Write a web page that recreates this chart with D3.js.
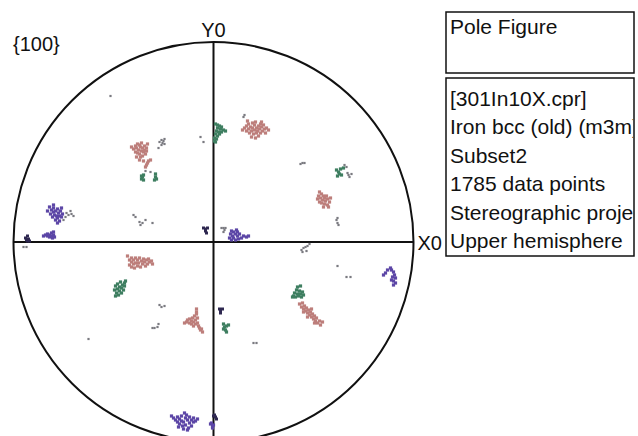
<!DOCTYPE html>
<html>
<head>
<meta charset="utf-8">
<script src="https://cdn.jsdelivr.net/npm/d3@7/dist/d3.min.js"></script>
<style>
  html, body { margin: 0; padding: 0; background: #fff; }
  svg { display: block; }
  text { font-family: "Liberation Sans", Arial, sans-serif; }
</style>
</head>
<body>
<svg id="chart" width="638" height="436"></svg>
<script>
// ---- Data (pole figure coordinates, unit circle radius = 100) ----
const pinkPts = [
  [15.5,57],[16.5,55.5],[16.5,58],[17.5,56.5],[17.5,59],[18,54.5],[18.5,57.5],[19,55.5],[19.5,59.5],[19.5,57],
  [20,54],[20.5,56],[20.5,58.5],[21,60],[21.5,57],[21.5,54.5],[22,55.5],[22.5,58],[22.5,53],[23,56.5],
  [23.5,59],[23.5,54.5],[24,57.5],[24.5,55.5],[25,58.5],[25.5,56.5],[26,54.5],[26.5,57],[27.5,56],[19,52.5],
  [21,52],[24,60],[17,60.5],[14.5,56],
  [-40,46.5],[-39,48],[-39,45],[-38.5,47],[-38,49],[-38,44.5],[-37.5,46],[-37,48.5],[-37,44],[-36.5,47.5],
  [-36,45.5],[-36,49.5],[-35.5,43],[-35.5,47],[-35,45],[-34.5,48],[-34.5,46],[-34,44],[-33.5,47],[-33.5,45.5],
  [-36.5,42.5],[-38.5,42.5],[-41,47.5],[-33,49],[-37,41],[-35,40.5],
  [-42,-9],[-42,-11.5],[-41,-8],[-41,-10],[-41,-12.5],[-40,-9],[-40,-11],[-39.5,-13],[-39,-8],[-39,-10.5],
  [-38,-9],[-38,-12],[-37.5,-10.5],[-37,-8],[-36.5,-12.5],[-36,-9.5],[-35.5,-11],[-35,-8.5],[-34.5,-10],[-34,-12],
  [-33.5,-9],[-33,-11],[-32.5,-8.5],[-32,-10],[-31,-9.5],[-30.5,-11],[-43,-7],
  [-13.5,-40],[-13,-39],[-12,-40.5],[-12,-38.5],[-11,-39.5],[-11,-41],[-10.5,-38],[-10,-40],[-10,-42],[-9.5,-37],
  [-9,-39],[-9,-41],[-8.5,-35],[-8.5,-36],[-8,-38],[-8,-40.5],[-7.5,-42],[-7,-43],[-6.5,-44],[-6,-43.5],
  [-5.5,-45],[-14.5,-40.5],[-8.5,-33.5],
  [52,21.5],[52.5,23],[53,20],[53.5,22],[54,24],[54,19.5],[54.5,21],[55,23],[55.5,19],[55.5,22],
  [56,20.5],[56.5,23],[57,18.5],[57,21.5],[58,20],[58.5,22],[53,25],[55,17.5],[57.5,17.5],
  [43,-31],[44,-32.5],[44.5,-30.5],[45,-33.5],[45.5,-32],[46,-34.5],[46.5,-33],[47,-35.5],[47.5,-34],[48,-36.5],
  [48.5,-35],[49,-37.5],[49.5,-36],[50,-38.5],[50.5,-37],[51,-39.5],[51.5,-38],[52,-40.5],[53,-39.5],[53.5,-41.5],
  [47,-37.5],[49,-33.5],[45,-35],[50.5,-40.5],[54.5,-40],
  [-34,37.5],[-33.5,38.5],[-33,39.5],[-32.5,40.5],[-31.5,41]
];
const greenPts = [
  [1,59],[2,58.5],[3,58],[4,57.5],[2,57],[3.5,56.5],[5,56],[1.5,55.5],[2.5,55],[4,55],
  [6,55.5],[1,54],[3,54],[2,53],[0.5,52],[1.5,51.5],[0.5,50.5],[1,50],
  [-36,31.5],[-35.5,32.5],[-35,33.5],[-36,33],[-35,31],[-29,34],[-29,32.5],[-28.5,31.5],[-29.5,31],
  [-49.5,-24],[-49,-22],[-48.5,-25.5],[-48,-23.5],[-48,-21],[-47.5,-26.5],[-47,-22.5],[-47,-24.5],[-46.5,-20],
  [-46,-23],[-46,-25.5],[-45.5,-21.5],[-45,-24],[-44.5,-22],[-44,-19.5],[-44.5,-20.5],[-49,-27],
  [5,-41],[5.5,-42.5],[6.5,-42],[7.5,-41.5],[6,-44],[5,-43.5],[6.5,-45],
  [61.5,36],[62.5,35],[63,34],[64,33.5],[63.5,36.5],[65,37],[62,33],
  [40,-27],[40.5,-25.5],[41,-27.5],[41.5,-24],[42,-26],[42,-22.5],[42.5,-27],[43,-24.5],[43.5,-26],[43.5,-22],
  [44,-27.5],[44.5,-25],[45,-26.5],[39.5,-27.5]
];
const purplePts = [
  [-81.5,14],[-81,16],[-80.5,12.5],[-80,15],[-80,17],[-79.5,13.5],[-79,11],[-79,15.5],[-78.5,13],[-78,16.5],
  [-78,12],[-77.5,14.5],[-77,10.5],[-77,13],[-76.5,15.5],[-76,12.5],[-75.5,14],[-78,9.5],[-83,15.5],[-82,17.5],
  [-76,17],[-80,18.5],
  [-85,3],[-84,3.5],[-83,3],[-83,4],[-82,3.5],[-82,2.5],[-81,4.5],[-81,3],[-80,3.5],[-80,5],[-79.5,2.5],[-80.5,2],
  [8,2],[8.5,4],[9,1],[9.5,3],[10,5],[10,2],[11,4],[11,1],[11.5,6],[12,3],[12.5,1.5],[13,4],[14,2],[15,3],
  [16.5,2.5],[17.5,3],[9,5.5],[12,5],
  [89,-14],[90,-15],[90.5,-16.5],[89.5,-17.5],[91,-18],[90,-19.5],[91,-20.5],[90,-21.5],[89,-19],[86,-15.5],
  [85,-16.5],[87,-14],[88.5,-13],
  [-20,-88],[-19,-89],[-18,-87.5],[-18,-90],[-17,-88.5],[-17,-91],[-16,-89.5],[-16,-87],[-15.5,-92],[-15,-90],
  [-14.5,-85.5],[-14,-88],[-14,-91.5],[-13.5,-86.5],[-13,-89],[-12.5,-93],[-12,-90.5],[-12,-87.5],[-11,-89],[-11,-92],
  [-10,-90],[-10,-88],[-9,-89.5],[-8,-88.5],[-15,-93.5],[-13,-94],[-17.5,-92.5],[-21,-87],
  [-1.5,-91],[-0.5,-92],[-1,-90.5],[0,-91.5],[-0.5,-93]
];
const darkPts = [
  [-94,2],[-93.5,1],[-93,0.5],[-92.5,1.5],[-92,0.5],[-93,3],
  [-5,7],[-4,6.5],[-3,7],[-4,5.5],[-3.5,4.5],
  [3,-33.5],[3.5,-34.5],[3.5,-35.5],[4.5,-33.5],
  [0,-87],[1,-87.5],[1.5,-88.5],[0.5,-86.5]
];
const grayPts = [
  [15,62.5],[15.5,63.5],
  [-6.5,52.5],[-5,50],
  [-27,50],[-26,51],[-25,50.5],[-24.5,49],[-26,48.5],[-25.5,49.5],[-27.5,47],[-24.5,51.5],
  [-31.5,35],[-34,35.5],[-51.5,73],
  [-73.5,14.5],[-72.5,13.5],[-71,14],[-70,13],[-74,12.5],[-71.5,15.5],[-75,11],
  [-95,-2.5],[-93.5,-2.5],
  [-40,13.5],[-39,12.5],[-36.5,8.5],[-37,10],[-35.5,9.5],[-30.5,9.5],[-34,11],
  [-27,-31.5],[-26,-32.5],[-24.5,-32],[-28,-42.5],[-29.5,-43],[-27.5,-41],[-30.5,-43],
  [20,-50.5],[21.5,-50.5],[-62.5,-48.5],
  [4,7],[5,7],[6,7],[5.5,6],[5,5],
  [67,34.5],[67.5,33.5],[68,32.5],[66.5,37.5],[65.5,38.5],[69,34],
  [61.5,11],[62,9.5],[62.5,8.5],[62,12],
  [44,-4],[45,-3],[46,-2.5],[47,-2],[48,-1],[46.5,-4.5],[44.5,-5],
  [43.5,39],[44.5,39.5],[45.5,39.5],
  [62,-12],[66.5,-17.5],[68.5,-17.5]
];
const series = [
  { name: "gray",   pts: grayPts,   color: "#7a7a80", size: 2.2 },
  { name: "pink",   pts: pinkPts,   color: "#bd7e7b", size: 3.2 },
  { name: "green",  pts: greenPts,  color: "#3e7e60", size: 3.2 },
  { name: "purple", pts: purplePts, color: "#5c46a6", size: 3.2 },
  { name: "dark",   pts: darkPts,   color: "#2e2850", size: 3 }
];
const poleLabel = "{100}";
const axisLabels = { x: "X0", y: "Y0" };
const titleLines = ["Pole Figure"];
const infoLines = ["[301In10X.cpr]", "Iron bcc (old) (m3m)", "Subset2", "1785 data points", "Stereographic projection", "Upper hemisphere"];

// ---- Layout ----
const svg = d3.select("#chart");
const cx = 213.5, cy = 242, R = 200;
const x = d3.scaleLinear().domain([-100, 100]).range([cx - R, cx + R]);
const y = d3.scaleLinear().domain([-100, 100]).range([cy + R, cy - R]);

// circle
svg.append("circle").attr("cx", x(0)).attr("cy", y(0)).attr("r", x(100) - x(0))
  .attr("fill", "none").attr("stroke", "#111").attr("stroke-width", 2);
// axes
svg.append("line").attr("x1", x(-100)).attr("x2", x(100)).attr("y1", y(0)).attr("y2", y(0))
  .attr("stroke", "#111").attr("stroke-width", 2);
svg.append("line").attr("x1", x(0)).attr("x2", x(0)).attr("y1", y(100)).attr("y2", y(-100))
  .attr("stroke", "#111").attr("stroke-width", 2);

// points
series.forEach(se => {
  const s = se.size;
  svg.append("g").selectAll("rect").data(se.pts).join("rect")
    .attr("x", d => x(d[0]) - s / 2).attr("y", d => y(d[1]) - s / 2)
    .attr("width", s).attr("height", s).attr("fill", se.color);
});

// labels
svg.append("text").attr("x", 13).attr("y", 51).attr("font-size", 20).attr("fill", "#111").text(poleLabel);
svg.append("text").attr("x", x(0)).attr("y", 37).attr("text-anchor", "middle").attr("font-size", 20).attr("fill", "#111").text(axisLabels.y);
svg.append("text").attr("x", x(100) + 4).attr("y", y(0) + 8).attr("font-size", 20).attr("fill", "#111").text(axisLabels.x);

// boxes
const bx = 446, bw = 188;
svg.append("rect").attr("x", bx).attr("y", 12).attr("width", bw).attr("height", 61)
  .attr("fill", "none").attr("stroke", "#111").attr("stroke-width", 1.5);
svg.append("text").attr("x", bx + 4).attr("y", 34).attr("font-size", 21).attr("fill", "#111").text(titleLines[0]);

const clip = svg.append("defs").append("clipPath").attr("id", "infoClip");
clip.append("rect").attr("x", bx).attr("y", 78).attr("width", bw - 1).attr("height", 178);
svg.append("rect").attr("x", bx).attr("y", 78).attr("width", bw).attr("height", 178)
  .attr("fill", "none").attr("stroke", "#111").attr("stroke-width", 1.5);
svg.append("g").attr("clip-path", "url(#infoClip)").selectAll("text").data(infoLines).join("text")
  .attr("x", bx + 4).attr("y", (d, i) => 106 + i * 28.4)
  .attr("font-size", 21).attr("fill", "#111").text(d => d);
</script>
</body>
</html>
